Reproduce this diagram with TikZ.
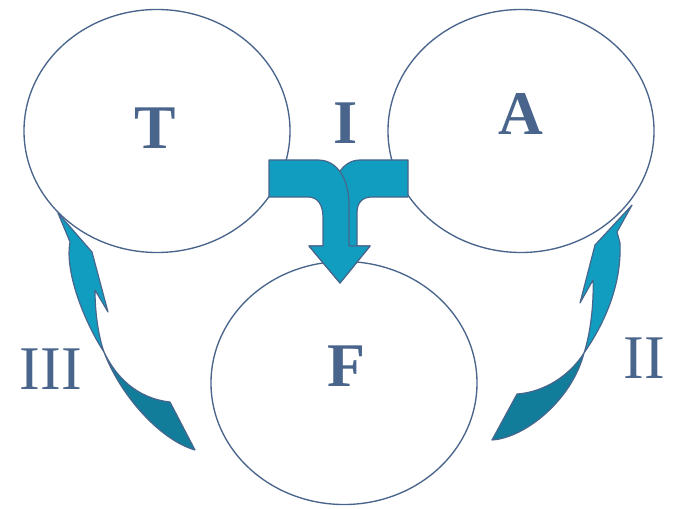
\documentclass[tikz,border=0pt]{standalone}
\usepackage{fontspec}
\setmainfont{Liberation Serif}
\usetikzlibrary{shapes.geometric}
\definecolor{slate}{RGB}{74,101,140}
\definecolor{arrowlight}{RGB}{16,157,192}
\definecolor{arrowdark}{RGB}{18,124,155}
\begin{document}
\begin{tikzpicture}[x=0.03cm,y=-0.03cm,
    circ/.style={ellipse,draw=slate,line width=1.15pt,minimum width=7.98cm,minimum height=7.29cm,inner sep=0pt},
    letter/.style={text=slate,font=\fontsize{53}{60}\selectfont\bfseries,inner sep=0pt},
    numeral/.style={text=slate,font=\fontsize{53}{60}\selectfont,inner sep=0pt},
    band/.style={fill=arrowlight,draw=slate,line width=1pt,line join=round},
    shade/.style={fill=arrowdark,draw=slate,line width=1pt,line join=round}]
    \useasboundingbox (0,0) rectangle (673,509);
    \node[circ] (T) at (157,131) {};
    \node[circ] (A) at (521,131) {};
    \node[circ] (F) at (344,383) {};
    % centre arrow, right arm under left arm
    \draw[band] (408,160) -- (360,160) .. controls (342,160) and (330,180) .. (330,210) -- (330,246)
        -- (309,246) -- (340,283) -- (370,246) -- (357,246) -- (357,213)
        .. controls (357,203) and (362,197) .. (372,197) -- (408,197) -- cycle;
    \draw[band] (269,160) -- (318,160) .. controls (338,160) and (349,180) .. (349,205) -- (349,246)
        -- (370,246) -- (340,283) -- (309,246) -- (323,246) -- (323,218)
        .. controls (323,205) and (318,197) .. (308,197) -- (269,197) -- cycle;
    % left curved arrow
    \draw[band] (58,213) -- (92,252) -- (108,312) -- (95,290)
        .. controls (95,315) and (99,338) .. (104,352)
        .. controls (88,328) and (64,275) .. (70,242) -- cycle;
    \draw[shade] (104,352) .. controls (115,375) and (135,398) .. (170,402) -- (195,450)
        .. controls (160,440) and (120,395) .. (104,352) -- cycle;
    % right curved arrow
    \draw[band] (632,205) -- (595,245) -- (580,303) -- (593,280)
        .. controls (594,305) and (590,335) .. (584,353)
        .. controls (600,330) and (622,290) .. (620,243) -- (617,232) -- cycle;
    \draw[shade] (584,353) .. controls (570,375) and (545,392) .. (517,394) -- (492,440)
        .. controls (525,438) and (572,400) .. (584,353) -- cycle;
    % labels
    \node[letter] (tT) at (155,128) {T};
    \node[letter] (tA) at (521,114) {A};
    \node[letter] (tF) at (346,366) {F};
    \node[letter] (tI) at (346,123) {I};
    \node[numeral] (tII) at (644,358) {II};
    \node[numeral] (tIII) at (51,369) {III};
\end{tikzpicture}
\end{document}
